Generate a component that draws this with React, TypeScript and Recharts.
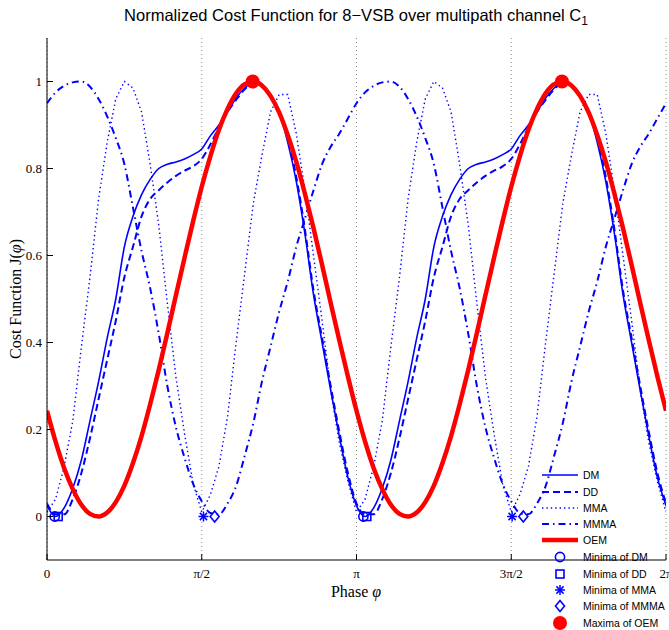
import React from "react";
import { ComposedChart, Line, Scatter, XAxis, YAxis, CartesianGrid, Legend } from "recharts";

// one period (0..pi) of each normalized cost, phase in degrees; the curves repeat with period pi
const PHASE_DEG = [
  0, 5, 10, 15, 20, 25, 30, 35, 40, 45, 50, 55, 60, 65, 70, 75, 80, 85,
  90, 95, 100, 105, 110, 115, 120, 125, 130, 135, 140, 145, 150, 155, 160, 165, 170, 175,
];
const DM = [
  0.025, 0.0, 0.02, 0.065, 0.13, 0.22, 0.31, 0.41, 0.5, 0.62, 0.69, 0.74, 0.775, 0.8, 0.81, 0.815, 0.822, 0.832,
  0.845, 0.875, 0.9, 0.93, 0.962, 0.985, 0.998, 0.99, 0.965, 0.93, 0.86, 0.77, 0.65, 0.51, 0.4, 0.29, 0.185, 0.09,
];
const DD = [
  0.03, 0.005, 0.005, 0.04, 0.1, 0.18, 0.27, 0.36, 0.45, 0.55, 0.62, 0.69, 0.73, 0.75, 0.768, 0.783, 0.795, 0.805,
  0.822, 0.855, 0.895, 0.93, 0.958, 0.982, 0.997, 0.99, 0.965, 0.93, 0.87, 0.78, 0.66, 0.52, 0.41, 0.3, 0.195, 0.1,
];
const MMA = [
  0.01, 0.04, 0.115, 0.22, 0.39, 0.55, 0.73, 0.86, 0.96, 1.0, 0.985, 0.93, 0.81, 0.67, 0.49, 0.32, 0.19, 0.075,
  0.01, 0.05, 0.115, 0.23, 0.4, 0.56, 0.72, 0.83, 0.93, 0.97, 0.97, 0.88, 0.75, 0.6, 0.45, 0.29, 0.17, 0.08,
];
const MMMA = [
  0.95, 0.975, 0.99, 0.998, 1.0, 0.988, 0.96, 0.92, 0.87, 0.81, 0.71, 0.61, 0.525, 0.42, 0.3, 0.205, 0.135, 0.075,
  0.035, 0.008, 0.005, 0.03, 0.07, 0.14, 0.215, 0.31, 0.39, 0.47, 0.54, 0.62, 0.685, 0.75, 0.81, 0.85, 0.88, 0.915,
];
const OEM = [
  0.243, 0.172, 0.111, 0.063, 0.027, 0.006, 0.0, 0.009, 0.033, 0.071, 0.123, 0.185, 0.258, 0.337, 0.422, 0.509, 0.595, 0.679,
  0.758, 0.828, 0.889, 0.937, 0.973, 0.994, 1.0, 0.991, 0.967, 0.929, 0.877, 0.815, 0.742, 0.663, 0.578, 0.491, 0.405, 0.322,
];

// extrema markers (phase in degrees)
const DM_MIN = [4.5, 184];
const DD_MIN = [6.5, 186];
const MMA_MIN = [91, 270.5];
const MMMA_MIN = [97.5, 277];
const OEM_MAX = [119.6, 299.5];

const X_TICKS = [0, 90, 180, 270, 360];
const X_TICK_LABELS = ["0", "π/2", "π", "3π/2", "2π"];
const Y_TICKS = [0, 0.2, 0.4, 0.6, 0.8, 1];

const BLUE = "#0000ff";
const RED = "#ff0000";
const SERIF = '"Liberation Serif", "Times New Roman", serif';
const SANS = '"Liberation Sans", Arial, Helvetica, sans-serif';

const W = 669;
const H = 630;

const rows: any[] = [];
[0, 180].forEach((off) => {
  PHASE_DEG.forEach((d, i) => {
    rows.push({ deg: d + off, dm: DM[i], dd: DD[i], mma: MMA[i], mmma: MMMA[i], oem: OEM[i] });
  });
});
rows.push({ deg: 360, dm: DM[0], dd: DD[0], mma: MMA[0], mmma: MMMA[0], oem: OEM[0] });

const points = (degs: number[], v: number) => degs.map((deg) => ({ deg, v }));

type Kind = "circle" | "square" | "star" | "diamond" | "dot";

function Marker({ cx, cy, kind }: { cx: number; cy: number; kind: Kind }) {
  if (cx == null || cy == null) return null;
  const s = { fill: "none", stroke: BLUE, strokeWidth: 1.6 };
  switch (kind) {
    case "circle":
      return <circle cx={cx} cy={cy} r={4.6} {...s} />;
    case "square":
      return <rect x={cx - 4} y={cy - 4} width={8} height={8} {...s} />;
    case "star":
      return (
        <g stroke={BLUE} strokeWidth={1.5}>
          <line x1={cx - 5} y1={cy} x2={cx + 5} y2={cy} />
          <line x1={cx} y1={cy - 5} x2={cx} y2={cy + 5} />
          <line x1={cx - 3.6} y1={cy - 3.6} x2={cx + 3.6} y2={cy + 3.6} />
          <line x1={cx - 3.6} y1={cy + 3.6} x2={cx + 3.6} y2={cy - 3.6} />
        </g>
      );
    case "diamond":
      return (
        <polygon
          points={`${cx},${cy - 5.5} ${cx + 4.5},${cy} ${cx},${cy + 5.5} ${cx - 4.5},${cy}`}
          {...s}
        />
      );
    default:
      return <circle cx={cx} cy={cy} r={7} fill={RED} />;
  }
}

const LEGEND_ROWS: { name: string; kind: "line" | Kind; color?: string; width?: number; dash?: string }[] = [
  { name: "DM", kind: "line", color: BLUE, width: 1.6 },
  { name: "DD", kind: "line", color: BLUE, width: 2, dash: "7 4" },
  { name: "MMA", kind: "line", color: BLUE, width: 1.4, dash: "1.4 3" },
  { name: "MMMA", kind: "line", color: BLUE, width: 2, dash: "7 4 1.5 4" },
  { name: "OEM", kind: "line", color: RED, width: 4.5 },
  { name: "Minima of DM", kind: "circle" },
  { name: "Minima of DD", kind: "square" },
  { name: "Minima of MMA", kind: "star" },
  { name: "Minima of MMMA", kind: "diamond" },
  { name: "Maxima of OEM", kind: "dot" },
];
const LEGEND_Y = [13, 30, 46, 62, 78, 95, 112, 128, 144, 161];

function LegendBox() {
  return (
    <svg width={129} height={168} style={{ display: "block", overflow: "visible" }}>
      {LEGEND_ROWS.map((row, i) => {
        const y = LEGEND_Y[i];
        return (
          <g key={row.name}>
            {row.kind === "line" ? (
              <line
                x1={2}
                y1={y}
                x2={38}
                y2={y}
                stroke={row.color}
                strokeWidth={row.width}
                strokeDasharray={row.dash}
              />
            ) : (
              <Marker cx={20} cy={y} kind={row.kind} />
            )}
            <text x={43} y={y} dominantBaseline="central" fontFamily={SANS} fontSize={10.5} fill="#000">
              {row.name}
            </text>
          </g>
        );
      })}
    </svg>
  );
}

const TICK = 6;

function XTick(props: any) {
  const { x, y, payload } = props;
  const i = X_TICKS.indexOf(payload.value);
  const axisY = y - 8;
  return (
    <g>
      <line x1={x} y1={axisY} x2={x} y2={axisY - TICK} stroke="#000" />
      <text x={x} y={y} dy="0.75em" textAnchor="middle" fontFamily={SERIF} fontSize={13} fill="#000">
        {X_TICK_LABELS[i]}
      </text>
    </g>
  );
}

function YTick(props: any) {
  const { x, y, payload } = props;
  const axisX = x + 5;
  return (
    <g>
      <line x1={axisX} y1={y} x2={axisX + TICK} y2={y} stroke="#000" />
      <text x={x} y={y} textAnchor="end" dominantBaseline="central" fontFamily={SERIF} fontSize={13} fill="#000">
        {payload.value === 0 || payload.value === 1 ? String(payload.value) : payload.value.toFixed(1)}
      </text>
    </g>
  );
}

export default function App() {
  return (
    <div style={{ position: "absolute", left: 0, top: 0, width: W, height: H, background: "#fff" }}>
      <ComposedChart
        width={W}
        height={H}
        data={rows}
        margin={{ top: 38, right: 3, bottom: 40, left: 17 }}
      >
        <CartesianGrid horizontal={false} stroke="#8c8c8c" strokeDasharray="1 3" />
        <XAxis
          type="number"
          dataKey="deg"
          domain={[0, 360]}
          ticks={X_TICKS}
          interval={0}
          height={30}
          tickSize={0}
          tickMargin={8}
          tickLine={false}
          axisLine={{ stroke: "#000" }}
          tick={<XTick />}
          allowDataOverflow
        />
        <XAxis
          xAxisId="top"
          orientation="top"
          type="number"
          domain={[0, 360]}
          ticks={X_TICKS}
          height={0}
          mirror
          tick={false}
          tickSize={TICK}
          tickLine={{ stroke: "#000" }}
          axisLine={{ stroke: "#000" }}
        />
        <YAxis
          type="number"
          domain={[-0.1, 1.1]}
          ticks={Y_TICKS}
          interval={0}
          width={30}
          tickSize={0}
          tickMargin={5}
          tickLine={false}
          axisLine={{ stroke: "#000" }}
          tick={<YTick />}
          allowDataOverflow
        />
        <YAxis
          yAxisId="right"
          orientation="right"
          type="number"
          domain={[-0.1, 1.1]}
          ticks={Y_TICKS}
          width={0}
          mirror
          tick={false}
          tickSize={TICK}
          tickLine={{ stroke: "#000" }}
          axisLine={{ stroke: "#000" }}
        />

        <Line type="monotone" dataKey="dm" stroke={BLUE} strokeWidth={1.6} dot={false} isAnimationActive={false} />
        <Line
          type="monotone"
          dataKey="dd"
          stroke={BLUE}
          strokeWidth={2}
          strokeDasharray="7 4"
          dot={false}
          isAnimationActive={false}
        />
        <Line
          type="linear"
          dataKey="mma"
          stroke={BLUE}
          strokeWidth={1.4}
          strokeDasharray="1.4 3"
          dot={false}
          isAnimationActive={false}
        />
        <Line
          type="monotone"
          dataKey="mmma"
          stroke={BLUE}
          strokeWidth={2}
          strokeDasharray="7 4 1.5 4"
          dot={false}
          isAnimationActive={false}
        />
        <Line type="monotone" dataKey="oem" stroke={RED} strokeWidth={4.5} dot={false} isAnimationActive={false} />

        <Scatter data={points(DM_MIN, 0)} dataKey="v" isAnimationActive={false}
          shape={(p: any) => <Marker cx={p.cx} cy={p.cy} kind="circle" />} />
        <Scatter data={points(DD_MIN, 0)} dataKey="v" isAnimationActive={false}
          shape={(p: any) => <Marker cx={p.cx} cy={p.cy} kind="square" />} />
        <Scatter data={points(MMA_MIN, 0)} dataKey="v" isAnimationActive={false}
          shape={(p: any) => <Marker cx={p.cx} cy={p.cy} kind="star" />} />
        <Scatter data={points(MMMA_MIN, 0)} dataKey="v" isAnimationActive={false}
          shape={(p: any) => <Marker cx={p.cx} cy={p.cy} kind="diamond" />} />
        <Scatter data={points(OEM_MAX, 1)} dataKey="v" isAnimationActive={false}
          shape={(p: any) => <Marker cx={p.cx} cy={p.cy} kind="dot" />} />

        <Legend
          layout="vertical"
          align="center"
          verticalAlign="middle"
          content={() => <LegendBox />}
          wrapperStyle={{ left: 540, top: 462, width: 129, height: 168 }}
        />
      </ComposedChart>

      {/* title and axis titles */}
      <svg width={W} height={H} style={{ position: "absolute", left: 0, top: 0, pointerEvents: "none" }}>
        <text x={356} y={21} textAnchor="middle" fontFamily={SANS} fontSize={16.5} fill="#000">
          Normalized Cost Function for 8−VSB over multipath channel C
          <tspan fontSize={12} dy={4}>1</tspan>
        </text>
        <text x={356} y={591} textAnchor="middle" dominantBaseline="central" fontFamily={SERIF} fontSize={16} fill="#000">
          Phase <tspan fontStyle="italic">φ</tspan>
        </text>
        <text
          x={15}
          y={299}
          transform="rotate(-90 15 299)"
          textAnchor="middle"
          dominantBaseline="central"
          fontFamily={SERIF}
          fontSize={16}
          fill="#000"
        >
          Cost Function J(<tspan fontStyle="italic">φ</tspan>)
        </text>
      </svg>
    </div>
  );
}
